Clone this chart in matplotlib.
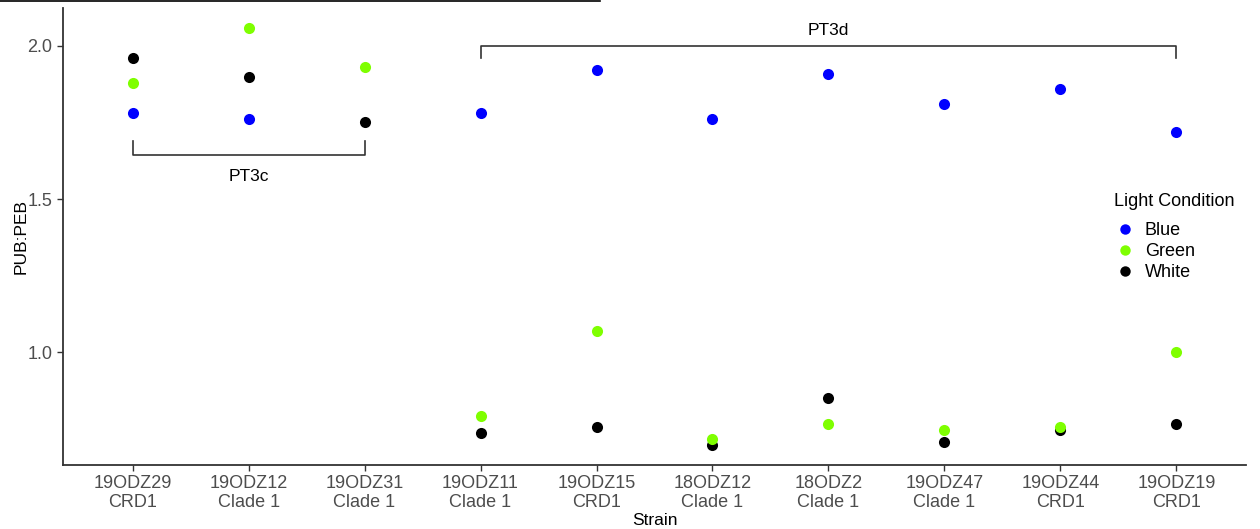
import matplotlib
matplotlib.use("Agg")
import matplotlib.pyplot as plt
from matplotlib.lines import Line2D

plt.rcParams['font.family'] = ['Liberation Sans', 'DejaVu Sans']

strains = ["19ODZ29\nCRD1", "19ODZ12\nClade 1", "19ODZ31\nClade 1", "19ODZ11\nClade 1",
           "19ODZ15\nCRD1", "18ODZ12\nClade 1", "18ODZ2\nClade 1", "19ODZ47\nClade 1",
           "19ODZ44\nCRD1", "19ODZ19\nCRD1"]
blue = [1.78, 1.76, None, 1.78, 1.92, 1.76, 1.91, 1.81, 1.86, 1.72]
green = [1.88, 2.06, 1.93, 0.79, 1.07, 0.715, 0.765, 0.745, 0.755, 1.00]
white = [1.96, 1.90, 1.75, 0.735, 0.755, 0.695, 0.85, 0.705, 0.745, 0.765]
conditions = ["Blue", "Green", "White"]
colors = {"Blue": "#0000FF", "Green": "#7FFF00", "White": "#000000"}

fig = plt.figure(figsize=(12.6, 5.29), dpi=100)
ax = fig.add_axes([63/1260, 1 - 465/529, (1246-63)/1260, (465-8)/529])

xs = list(range(1, len(strains) + 1))
series = {"Blue": blue, "Green": green, "White": white}
zo = {"Blue": 3, "White": 4, "Green": 5}
for c in conditions:
    px = [x for x, v in zip(xs, series[c]) if v is not None]
    py = [v for v in series[c] if v is not None]
    ax.scatter(px, py, s=64, color=colors[c], zorder=zo[c], linewidths=0)

ax.set_xlim(0.4, 10.6)
ax.set_ylim(0.631, 2.124)
ax.set_xticks(xs)
ax.set_xticklabels(strains)
ax.set_yticks([1.0, 1.5, 2.0])
ax.set_yticklabels(["1.0", "1.5", "2.0"])
for s in ["top", "right"]:
    ax.spines[s].set_visible(False)
for s in ["left", "bottom"]:
    ax.spines[s].set_color("#333333")
    ax.spines[s].set_linewidth(1.3)
ax.tick_params(axis="both", colors="#333333", length=4, width=1.0, labelsize=13,
               labelcolor="#4D4D4D")
ax.tick_params(axis="x", pad=3)
ax.set_xlabel("Strain", fontsize=12.5, color="black", labelpad=1)
ax.set_ylabel("PUB:PEB", fontsize=12.5, color="black", labelpad=-1)

# brackets
bc = "#333333"
ax.plot([4, 4, 10, 10], [1.96, 2.0, 2.0, 1.96], color=bc, lw=1.2, clip_on=False)
ax.text(7, 2.05, "PT3d", ha="center", va="center", fontsize=12.5)
ax.plot([1, 1, 3, 3], [1.69, 1.644, 1.644, 1.69], color=bc, lw=1.2, clip_on=False)
ax.text(2, 1.572, "PT3c", ha="center", va="center", fontsize=12.5)

handles = [Line2D([0], [0], marker='o', linestyle='', markersize=7.5,
                  markerfacecolor=colors[c], markeredgewidth=0) for c in conditions]
leg = fig.legend(handles, conditions, title="Light Condition", loc="upper left",
                 bbox_to_anchor=(1114/1260, 1 - 193/529), frameon=False, fontsize=13,
                 title_fontsize=13, handletextpad=0.5, labelspacing=0.22,
                 borderaxespad=0, handlelength=1.2, borderpad=0)
leg._legend_box.align = "left"
leg._legend_box.sep = 9

# top line
fig.add_artist(Line2D([0, 600/1260], [1 - 0.8/529, 1 - 0.8/529], color="black", lw=1.2))

fig.savefig("out.png", dpi=100)
